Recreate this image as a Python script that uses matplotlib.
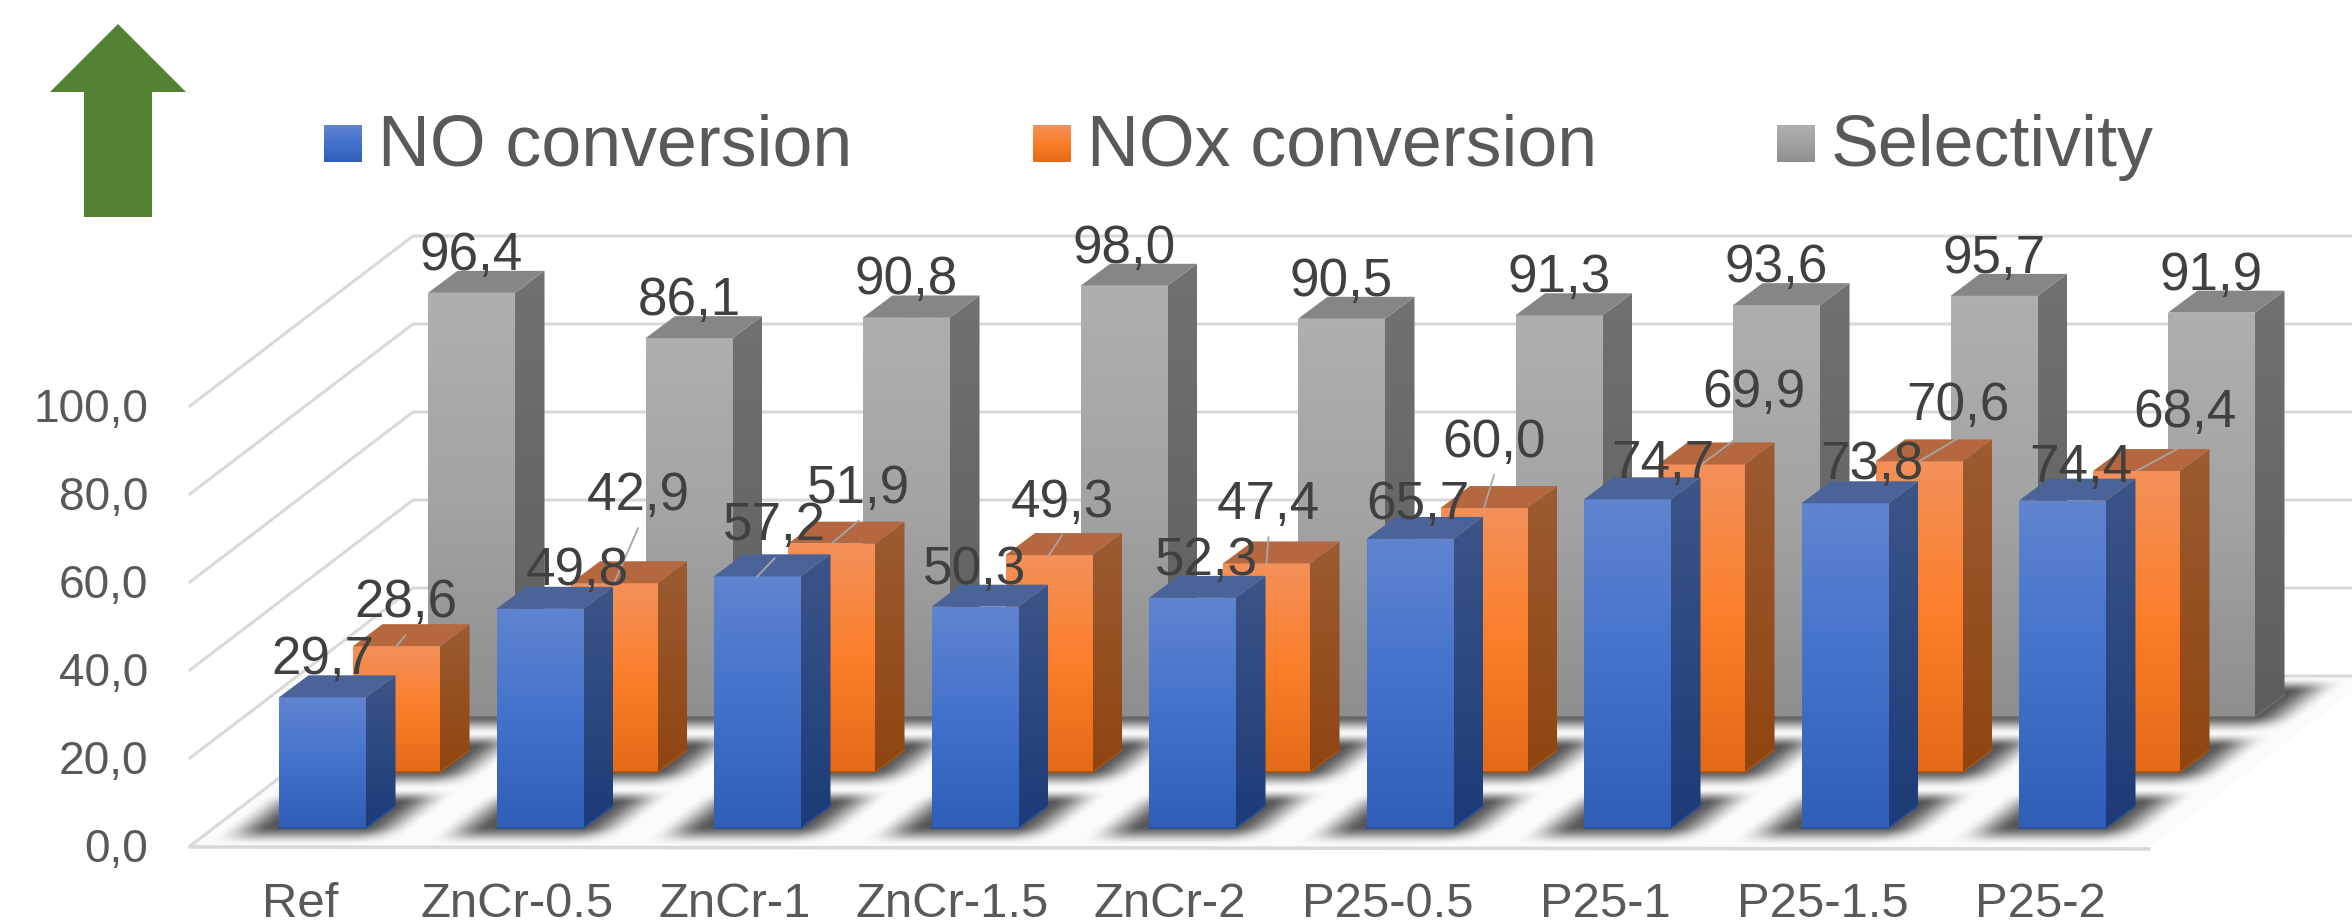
import matplotlib
matplotlib.use('Agg')
import matplotlib.pyplot as plt
import numpy as np
from matplotlib.patches import Polygon
from matplotlib.colors import to_rgb

plt.rcParams['font.family'] = ['Liberation Sans', 'DejaVu Sans']

categories = ['Ref', 'ZnCr-0.5', 'ZnCr-1', 'ZnCr-1.5', 'ZnCr-2', 'P25-0.5', 'P25-1', 'P25-1.5', 'P25-2']
no_conv = [29.7, 49.8, 57.2, 50.3, 52.3, 65.7, 74.7, 73.8, 74.4]
nox_conv = [28.6, 42.9, 51.9, 49.3, 47.4, 60.0, 69.9, 70.6, 68.4]
selectivity = [96.4, 86.1, 90.8, 98.0, 90.5, 91.3, 93.6, 95.7, 91.9]
y_ticks = [0, 20, 40, 60, 80, 100]
legend_names = ['NO conversion', 'NOx conversion', 'Selectivity']

# label nudges in pixels, from the default spot above each bar
no_dx = [0, 37, 17, 0, 14, 8, 35, 27, 18]
no_dy = [-42, -43, -55, -42, -42, -39, -40, -43, -38]
nox_dx = [9, 24, 27, 13, 2, 10, 52, 39, 48]
nox_dy = [-48, -92, -60, -57, -63, -70, -76, -60, -63]

W, H = 2352, 923
PX = 4.4            # pixels per percent
BAR_W = 87
STEP = 217.5
DEPTH_X, DEPTH_Y = 29.5, 22
LABEL_SHIFT = 5


def px_pt(px):
    return px * 0.72


def fmt(v):
    return ('%.1f' % v).replace('.', ',')


fig = plt.figure(figsize=(W / 100, H / 100), dpi=100)
ax = fig.add_axes([0, 0, 1, 1])
ax.set_xlim(0, W)
ax.set_ylim(H, 0)
ax.axis('off')


def gradient(stops):
    stops = [to_rgb(c) for c in stops]
    t = np.linspace(0, 1, 64)
    pos = np.linspace(0, 1, len(stops))
    return np.array([[np.interp(v, pos, [s[k] for s in stops]) for k in range(3)] for v in t]).reshape(64, 1, 3)


def grad_poly(pts, stops, z):
    pts = np.array(pts)
    im = ax.imshow(gradient(stops), extent=(pts[:, 0].min(), pts[:, 0].max(), pts[:, 1].max(), pts[:, 1].min()),
                   aspect='auto', interpolation='bilinear', zorder=z)
    clip = Polygon(pts, closed=True, transform=ax.transData, fc='none', ec='none')
    ax.add_patch(clip)
    im.set_clip_path(clip)


def bar3d(x, base, val, style, z):
    top = base - val * PX
    front = [(x, base), (x + BAR_W, base), (x + BAR_W, top), (x, top)]
    side = [(x + BAR_W, base), (x + BAR_W + DEPTH_X, base - DEPTH_Y),
            (x + BAR_W + DEPTH_X, top - DEPTH_Y), (x + BAR_W, top)]
    lid = [(x, top), (x + BAR_W, top), (x + BAR_W + DEPTH_X, top - DEPTH_Y), (x + DEPTH_X, top - DEPTH_Y)]
    grad_poly(side, style['side'], z)
    grad_poly(front, style['front'], z + 0.1)
    ax.add_patch(Polygon(lid, closed=True, fc=style['lid'], ec='none', zorder=z + 0.1))
    ax.plot([x, x + BAR_W, x + BAR_W + DEPTH_X], [base, base, base - DEPTH_Y], color=style['edge'], lw=1.2, zorder=z + 0.2)


blue = {'front': ['#6084cf', '#4272cc', '#2f5fb8'], 'side': ['#3c5588', '#1c3b78'], 'lid': '#4a6399', 'edge': '#2a4f9a'}
orange = {'front': ['#f39059', '#fb7f2a', '#e46a17'], 'side': ['#9c5b32', '#8f4510'], 'lid': '#b5673f', 'edge': '#a8520f'}
gray = {'front': ['#afafaf', '#a3a3a3', '#8e8e8e'], 'side': ['#717171', '#5e5e5e'], 'lid': '#868686', 'edge': '#6c6c6c'}

# series sit one behind the other on the floor
series = [
    (selectivity, 428, 717, gray),
    (nox_conv, 353, 772, orange),
    (no_conv, 279, 828, blue),
]

# floor, a shade off white
ax.add_patch(Polygon([(190, 847), (2149, 849), (2372, 677), (413, 676)], closed=True, fc='#fbfbfb', ec='none', zorder=0.5))

# walls and floor grid
for t in y_ticks:
    y = 846 - t * PX
    ax.plot([190, 413, W], [y, y - 170, y - 170], color='#d9d9d9', lw=2.2, zorder=1, solid_joinstyle='miter')
    ax.text(148, y + 4, fmt(t), ha='right', va='center', fontsize=px_pt(46), color='#595959')
ax.plot([190, 2149], [847, 849], color='#d9d9d9', lw=2.6, zorder=1)

# soft shadows on the floor
yy, xx = np.mgrid[0:H, 0:W]
alpha = np.zeros((H, W))


def soft(d, width):
    t = np.clip(d / width, 0, 1)
    return t * t * (3 - 2 * t)


for vals, x0, base, style in series:
    for i in range(len(categories)):
        x = x0 + i * STEP
        u = xx - (base + 8 - yy) * 1.31 - x
        edge = soft(u + 68, 50) * soft(124 - u, 50)
        alpha = np.maximum(alpha, edge * soft(yy - (base - 40), 15) * soft(base + 17 - yy, 20))
shadow = np.dstack([np.full((H, W, 3), 0.25), alpha * 0.88])
ax.imshow(shadow, extent=(0, W, H, 0), aspect='auto', zorder=2, interpolation='bilinear')

z = 3
for vals, x0, base, style in series:
    for i, v in enumerate(vals):
        bar3d(x0 + i * STEP, base, v, style, z)
    z += 1

# data labels and their leader lines
label_kw = dict(ha='center', va='center', fontsize=px_pt(53), color='#404040', zorder=20)
for i, v in enumerate(selectivity):
    ax.text(428 + i * STEP + BAR_W / 2, 717 - v * PX - 42 + LABEL_SHIFT, fmt(v), **label_kw)
for i, v in enumerate(nox_conv):
    cx = 353 + i * STEP + BAR_W / 2
    top = 772 - v * PX
    lx, ly = cx + nox_dx[i], top + nox_dy[i]
    ax.plot([cx, lx], [top, ly + 37], color='#a6a6a6', lw=1.3, zorder=19)
    ax.text(lx, ly + LABEL_SHIFT, fmt(v), **label_kw)
for i, v in enumerate(no_conv):
    cx = 279 + i * STEP + BAR_W / 2
    top = 828 - v * PX
    lx, ly = cx + no_dx[i], top + no_dy[i]
    if i == 2:
        ax.plot([cx, lx], [top, ly + 37], color='#a6a6a6', lw=1.3, zorder=19)
    ax.text(lx, ly + LABEL_SHIFT, fmt(v), **label_kw)

# category labels
for i, c in enumerate(categories):
    ax.text(300 + i * STEP, 917, c, ha='center', va='baseline', fontsize=px_pt(49), color='#595959')

# legend
legend_x = [324, 1033, 1777]
for name, lx, style in zip(legend_names, legend_x, [blue, orange, gray]):
    grad_poly([(lx, 125), (lx + 38, 125), (lx + 38, 162), (lx, 162)], style['front'], 5)
    ax.text(lx + 54, 166, name, ha='left', va='baseline', fontsize=px_pt(71.8), color='#595959')

# green arrow top left
arrow = [(118, 24), (186, 92), (152, 92), (152, 217), (84, 217), (84, 92), (50, 92)]
ax.add_patch(Polygon(arrow, closed=True, fc='#548235', ec='none', zorder=5))

ax.set_xlim(0, W)
ax.set_ylim(H, 0)
fig.savefig('out.png', dpi=100, facecolor='white')
